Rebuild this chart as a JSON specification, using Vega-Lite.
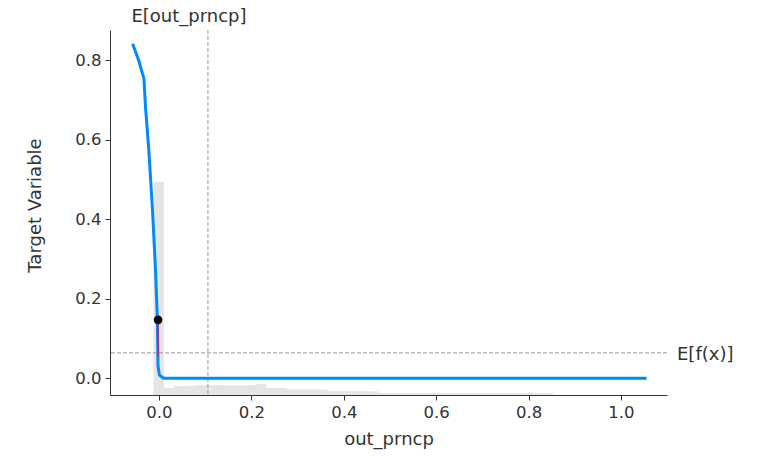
{
  "$schema": "https://vega.github.io/schema/vega-lite/v6.json",
  "width": 557,
  "height": 365,
  "autosize": {"type": "none"},
  "padding": {"left": 110, "top": 30, "right": 90, "bottom": 62},
  "background": "white",
  "config": {
    "view": {"stroke": null},
    "font": "DejaVu Sans",
    "axis": {
      "grid": false,
      "domainColor": "#333333",
      "tickColor": "#333333",
      "labelColor": "#333333",
      "titleColor": "#333333",
      "labelFont": "DejaVu Sans",
      "titleFont": "DejaVu Sans",
      "labelFontSize": 16.5,
      "titleFontSize": 18,
      "titleFontWeight": "normal",
      "tickSize": 5,
      "labelPadding": 4
    }
  },
  "datasets": {
    "hist": [
      {"bin_start": -0.01168, "bin_end": 0.01048, "frac": 0.584},
      {"bin_start": 0.01048, "bin_end": 0.03264, "frac": 0.019},
      {"bin_start": 0.03264, "bin_end": 0.0548, "frac": 0.025},
      {"bin_start": 0.0548, "bin_end": 0.07696, "frac": 0.025},
      {"bin_start": 0.07696, "bin_end": 0.09912, "frac": 0.027},
      {"bin_start": 0.09912, "bin_end": 0.12128, "frac": 0.027},
      {"bin_start": 0.12128, "bin_end": 0.14344, "frac": 0.027},
      {"bin_start": 0.14344, "bin_end": 0.1656, "frac": 0.026},
      {"bin_start": 0.1656, "bin_end": 0.18776, "frac": 0.026},
      {"bin_start": 0.18776, "bin_end": 0.20992, "frac": 0.027},
      {"bin_start": 0.20992, "bin_end": 0.23208, "frac": 0.030},
      {"bin_start": 0.23208, "bin_end": 0.25424, "frac": 0.019},
      {"bin_start": 0.25424, "bin_end": 0.2764, "frac": 0.019},
      {"bin_start": 0.2764, "bin_end": 0.29856, "frac": 0.016},
      {"bin_start": 0.29856, "bin_end": 0.32072, "frac": 0.016},
      {"bin_start": 0.32072, "bin_end": 0.34288, "frac": 0.016},
      {"bin_start": 0.34288, "bin_end": 0.36504, "frac": 0.015},
      {"bin_start": 0.36504, "bin_end": 0.3872, "frac": 0.011},
      {"bin_start": 0.3872, "bin_end": 0.40936, "frac": 0.011},
      {"bin_start": 0.40936, "bin_end": 0.43152, "frac": 0.011},
      {"bin_start": 0.43152, "bin_end": 0.45368, "frac": 0.011},
      {"bin_start": 0.45368, "bin_end": 0.47584, "frac": 0.010},
      {"bin_start": 0.47584, "bin_end": 0.498, "frac": 0.006},
      {"bin_start": 0.498, "bin_end": 0.52016, "frac": 0.006},
      {"bin_start": 0.52016, "bin_end": 0.54232, "frac": 0.006},
      {"bin_start": 0.54232, "bin_end": 0.56448, "frac": 0.006},
      {"bin_start": 0.56448, "bin_end": 0.58664, "frac": 0.006},
      {"bin_start": 0.58664, "bin_end": 0.6088, "frac": 0.006},
      {"bin_start": 0.6088, "bin_end": 0.63096, "frac": 0.006},
      {"bin_start": 0.63096, "bin_end": 0.65312, "frac": 0.006},
      {"bin_start": 0.65312, "bin_end": 0.67528, "frac": 0.006},
      {"bin_start": 0.67528, "bin_end": 0.69744, "frac": 0.006},
      {"bin_start": 0.69744, "bin_end": 0.7196, "frac": 0.006},
      {"bin_start": 0.7196, "bin_end": 0.74176, "frac": 0.006},
      {"bin_start": 0.74176, "bin_end": 0.76392, "frac": 0.006},
      {"bin_start": 0.76392, "bin_end": 0.78608, "frac": 0.006},
      {"bin_start": 0.78608, "bin_end": 0.80824, "frac": 0.006},
      {"bin_start": 0.80824, "bin_end": 0.8304, "frac": 0.006},
      {"bin_start": 0.8304, "bin_end": 0.85256, "frac": 0.006}
    ],
    "pd": [
      {"out_prncp": -0.056, "target": 0.838},
      {"out_prncp": -0.044, "target": 0.800},
      {"out_prncp": -0.0325, "target": 0.753},
      {"out_prncp": -0.029, "target": 0.68},
      {"out_prncp": -0.022, "target": 0.574},
      {"out_prncp": -0.014, "target": 0.423},
      {"out_prncp": -0.0075, "target": 0.272},
      {"out_prncp": -0.0035, "target": 0.147},
      {"out_prncp": -0.002, "target": 0.030},
      {"out_prncp": 0.001, "target": 0.008},
      {"out_prncp": 0.01, "target": 0.0},
      {"out_prncp": 0.5, "target": 0.0},
      {"out_prncp": 1.052, "target": 0.0}
    ]
  },
  "layer": [
    {
      "data": {"name": "hist"},
      "mark": {"type": "rect", "color": "#000000", "opacity": 0.1},
      "encoding": {
        "x": {"field": "bin_start", "type": "quantitative", "scale": {"domain": [-0.106, 1.0996], "nice": false, "zero": false}},
        "x2": {"field": "bin_end"},
        "y": {"field": "frac", "type": "quantitative", "scale": {"domain": [0, 1], "nice": false}, "axis": null},
        "y2": {"datum": 0}
      }
    },
    {
      "layer": [
        {
          "data": {"values": [{"mean_x": 0.106}]},
          "mark": {"type": "rule", "color": "#999999", "strokeWidth": 1, "strokeDash": [4, 2]},
          "encoding": {"x": {"field": "mean_x", "type": "quantitative"}}
        },
        {
          "data": {"values": [{"expected_value": 0.064}]},
          "mark": {"type": "rule", "color": "#999999", "strokeWidth": 1, "strokeDash": [4, 2]},
          "encoding": {"y": {"field": "expected_value", "type": "quantitative"}}
        },
        {
          "data": {"name": "pd"},
          "mark": {"type": "line", "color": "#008bfb", "strokeWidth": 3, "strokeCap": "square", "strokeJoin": "round"},
          "encoding": {
            "x": {
              "field": "out_prncp", "type": "quantitative",
              "scale": {"domain": [-0.106, 1.0996], "nice": false, "zero": false},
              "axis": {"title": "out_prncp", "values": [0, 0.2, 0.4, 0.6, 0.8, 1.0], "format": ".1f", "titlePadding": 10}
            },
            "y": {
              "field": "target", "type": "quantitative",
              "scale": {"domain": [-0.042, 0.876], "nice": false, "zero": false},
              "axis": {"title": "Target Variable", "values": [0, 0.2, 0.4, 0.6, 0.8], "format": ".1f", "titlePadding": 30, "titleY": 175}
            }
          }
        },
        {
          "data": {"values": [{"x": -0.002, "y_from": 0.147, "y_to": 0.053}]},
          "mark": {"type": "rule", "color": "#ff0051", "strokeWidth": 1.2},
          "encoding": {
            "x": {"field": "x", "type": "quantitative"},
            "y": {"field": "y_from", "type": "quantitative"},
            "y2": {"field": "y_to"}
          }
        },
        {
          "data": {"values": [{"x": -0.002, "y": 0.147}]},
          "mark": {"type": "point", "filled": true, "color": "#000000", "opacity": 1, "size": 75},
          "encoding": {
            "x": {"field": "x", "type": "quantitative"},
            "y": {"field": "y", "type": "quantitative"}
          }
        },
        {
          "data": {"values": [{"x": 0.106, "y": 0.876, "label": "E[out_prncp]"}]},
          "mark": {"type": "text", "fontSize": 18, "color": "#333333", "align": "center", "baseline": "alphabetic", "dx": -19, "dy": -8},
          "encoding": {
            "x": {"field": "x", "type": "quantitative"},
            "y": {"field": "y", "type": "quantitative"},
            "text": {"field": "label"}
          }
        },
        {
          "data": {"values": [{"x": 1.0996, "y": 0.064, "label": "E[f(x)]"}]},
          "mark": {"type": "text", "fontSize": 18, "color": "#333333", "align": "left", "baseline": "middle", "dx": 10, "dy": 2},
          "encoding": {
            "x": {"field": "x", "type": "quantitative"},
            "y": {"field": "y", "type": "quantitative"},
            "text": {"field": "label"}
          }
        }
      ]
    }
  ],
  "resolve": {"scale": {"y": "independent"}}
}
